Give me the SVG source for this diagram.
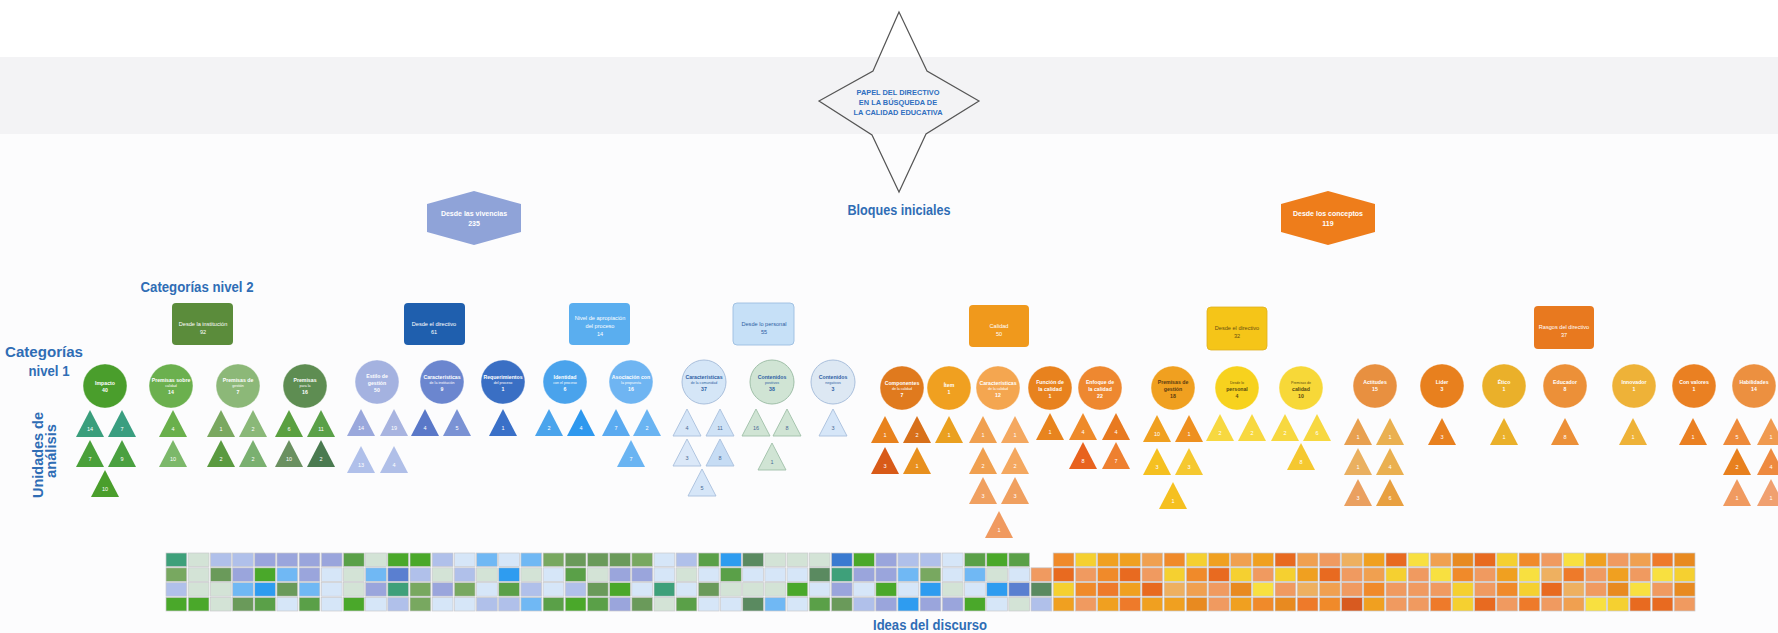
<svg xmlns="http://www.w3.org/2000/svg" xmlns:xlink="http://www.w3.org/1999/xlink" width="1778" height="633" viewBox="0 0 1778 633">
<style>
text{font-family:"Liberation Sans",Arial,sans-serif;text-anchor:middle}
.hd{font-weight:bold;fill:#2f6db5}
.st{font-weight:bold;fill:#2f6fc0;font-size:7.4px}
.l2{font-size:5.6px;fill:#fff}
.hx{font-size:7px;fill:#fff;font-weight:bold}
.cl{font-size:5.2px;fill:#fff;font-weight:bold}
.cs{font-size:3.6px;fill:#fff}
.dk{fill:#2e5fa3}
.tn{font-size:5.5px;fill:#fff}
.tp{font-size:5.5px;fill:#4a6a94}
.pale{stroke:#a9bfdc;stroke-width:0.9}
.paleg{stroke:#9fbfa8;stroke-width:0.9}
.rim{stroke:#ffffff;stroke-opacity:0.35;stroke-width:1.2}
.ga{fill:#3ea07a}.gb{fill:#4aa82a}.gc{fill:#5aa048}.gd{fill:#6a9a5a}.ge{fill:#78a860}.gf{fill:#5a8a60}.gg{fill:#d3e3d6}
.gh{fill:#b0c0ea}.gi{fill:#9aa5dc}.gj{fill:#d6e6f8}.gk{fill:#70b8f4}.gl{fill:#2e9cf0}.gm{fill:#5a7fd0}.gn{fill:#3a7ad0}
.oa{fill:#f08a2a}.ob{fill:#f5d030}.oc{fill:#f0a020}.od{fill:#f0a050}.oe{fill:#e86a20}.of{fill:#f09a60}.og{fill:#eeb060}
.oh{fill:#f8e040}.oi{fill:#d85a20}.oj{fill:#e88a20}.ok{fill:#ee7a2a}
</style>
<defs>
<path id="tri" d="M0 0 L14 27 L-14 27 Z"/>
<rect id="cell" width="20.8" height="13.6" stroke="#c9c9cc" stroke-width="0.7"/>
</defs>

<!-- background bands -->
<rect width="1778" height="633" fill="#fcfcfd"/>
<rect y="0" width="1778" height="57" fill="#ffffff"/>
<rect y="57" width="1778" height="77" fill="#f3f3f5"/>

<!-- title star -->
<g id="title">
<polygon points="899,12 927,71 979,101 926,134 899,192 872,135 819,101 873,71" fill="none" stroke="#555" stroke-width="1.2"/>
<text class="st" x="898" y="95">PAPEL DEL DIRECTIVO</text>
<text class="st" x="898" y="105">EN LA BÚSQUEDA DE</text>
<text class="st" x="898" y="115">LA CALIDAD EDUCATIVA</text>
</g>

<!-- section headings -->
<g id="headings">
<text class="hd" x="899" y="215" font-size="14" textLength="103" lengthAdjust="spacingAndGlyphs">Bloques iniciales</text>
<text class="hd" x="197" y="292" font-size="14" textLength="113" lengthAdjust="spacingAndGlyphs">Categorías nivel 2</text>
<text class="hd" x="44" y="357" font-size="14" textLength="78" lengthAdjust="spacingAndGlyphs">Categorías</text>
<text class="hd" x="49" y="376" font-size="14" textLength="41" lengthAdjust="spacingAndGlyphs">nivel 1</text>
<text class="hd" font-size="14" transform="translate(43,455) rotate(-90)" textLength="86" lengthAdjust="spacingAndGlyphs">Unidades de</text>
<text class="hd" font-size="14" transform="translate(56,451) rotate(-90)" textLength="54" lengthAdjust="spacingAndGlyphs">análisis</text>
<text class="hd" x="930" y="630" font-size="14" textLength="114" lengthAdjust="spacingAndGlyphs">Ideas del discurso</text>
</g>

<!-- initial blocks -->
<g id="block-vivencias">
<polygon points="474,191 521,204 521,232 474,245 427,232 427,204" fill="#8fa3d8"/>
<text class="hx" x="474" y="216">Desde las vivencias</text>
<text class="hx" x="474" y="226">235</text>
</g>
<g id="block-conceptos">
<polygon points="1328,191 1375,204 1375,232 1328,245 1281,232 1281,204" fill="#ee7d1b"/>
<text class="hx" x="1328" y="216">Desde los conceptos</text>
<text class="hx" x="1328" y="226">119</text>
</g>

<!-- level 2 categories -->
<g id="n2-institucion"><rect x="172" y="303" width="61" height="42" rx="4" fill="#5b8c3b"/>
<text class="l2" x="203" y="326">Desde la institución</text><text class="l2" x="203" y="334">92</text></g>
<g id="n2-directivo"><rect x="404" y="303" width="61" height="42" rx="4" fill="#1f5fae"/>
<text class="l2" x="434" y="326">Desde el directivo</text><text class="l2" x="434" y="334">61</text></g>
<g id="n2-apropiacion"><rect x="569" y="303" width="61" height="42" rx="4" fill="#5aaeef"/>
<text class="l2" x="600" y="320">Nivel de apropiación</text><text class="l2" x="600" y="328">del proceso</text><text class="l2" x="600" y="336">14</text></g>
<g id="n2-personal"><rect x="733" y="303" width="61" height="42" rx="4" fill="#c6e0f7" stroke="#9cbde0" stroke-width="0.9"/>
<text class="l2 dk" x="764" y="326">Desde lo personal</text><text class="l2 dk" x="764" y="334">55</text></g>
<g id="n2-calidad"><rect x="969" y="305" width="60" height="42" rx="4" fill="#f0991c"/>
<text class="l2" x="999" y="328">Calidad</text><text class="l2" x="999" y="336">50</text></g>
<g id="n2-directivo-c"><rect x="1207" y="307" width="60" height="43" rx="4" fill="#f5c518" stroke="#e0b020" stroke-width="0.8"/>
<text class="l2" x="1237" y="330" style="fill:#6b4f10">Desde el directivo</text><text class="l2" x="1237" y="338" style="fill:#6b4f10">32</text></g>
<g id="n2-rasgos"><rect x="1534" y="306" width="60" height="43" rx="4" fill="#e8791f"/>
<text class="l2" x="1564" y="329">Rasgos del directivo</text><text class="l2" x="1564" y="337">37</text></g>

<!-- level 1 categories -->
<g id="n1-impacto"><circle class="rim" cx="105" cy="386" r="22" fill="#4a9e2c"/>
<text class="cl" x="105" y="385">Impacto</text><text class="cl" x="105" y="392">40</text></g>
<g id="n1-premisas-calidad"><circle class="rim" cx="171" cy="386" r="22" fill="#6bb04e"/>
<text class="cl" x="171" y="382">Premisas sobre</text><text class="cs" x="171" y="387">calidad</text><text class="cl" x="171" y="394">14</text></g>
<g id="n1-premisas-gestion"><circle class="rim" cx="238" cy="386" r="22" fill="#8cb878"/>
<text class="cl" x="238" y="382">Premisas de</text><text class="cs" x="238" y="387">gestión</text><text class="cl" x="238" y="394">7</text></g>
<g id="n1-premisas-para"><circle class="rim" cx="305" cy="386" r="22" fill="#5e8d52"/>
<text class="cl" x="305" y="382">Premisas</text><text class="cs" x="305" y="387">para la</text><text class="cl" x="305" y="394">16</text></g>

<g id="n1-estilo"><circle class="rim" cx="377" cy="382" r="22" fill="#a4b2e0"/>
<text class="cl" x="377" y="378">Estilo de</text><text class="cl" x="377" y="385">gestión</text><text class="cl" x="377" y="392">50</text></g>
<g id="n1-caract-inst"><circle class="rim" cx="442" cy="382" r="22" fill="#6b86cf"/>
<text class="cl" x="442" y="379">Características</text><text class="cs" x="442" y="384">de la institución</text><text class="cl" x="442" y="391">9</text></g>
<g id="n1-requerimientos"><circle class="rim" cx="503" cy="382" r="22" fill="#3a6fc4"/>
<text class="cl" x="503" y="379">Requerimientos</text><text class="cs" x="503" y="384">del proceso</text><text class="cl" x="503" y="391">1</text></g>
<g id="n1-identidad"><circle class="rim" cx="565" cy="382" r="22" fill="#4aa3ec"/>
<text class="cl" x="565" y="379">Identidad</text><text class="cs" x="565" y="384">con el proceso</text><text class="cl" x="565" y="391">6</text></g>
<g id="n1-asociacion"><circle class="rim" cx="631" cy="382" r="22" fill="#6fb5f2"/>
<text class="cl" x="631" y="379">Asociación con</text><text class="cs" x="631" y="384">la propuesta</text><text class="cl" x="631" y="391">16</text></g>
<g id="n1-caract-com"><circle cx="704" cy="382" r="22" fill="#d5e6f7" stroke="#a9bfdc" stroke-width="1"/>
<text class="cl dk" x="704" y="379">Características</text><text class="cs dk" x="704" y="384">de la comunidad</text><text class="cl dk" x="704" y="391">37</text></g>
<g id="n1-positivos"><circle cx="772" cy="382" r="22" fill="#d0e4d4" stroke="#9fbfa8" stroke-width="1"/>
<text class="cl dk" x="772" y="379">Contenidos</text><text class="cs dk" x="772" y="384">positivos</text><text class="cl dk" x="772" y="391">38</text></g>
<g id="n1-negativos"><circle cx="833" cy="382" r="22" fill="#dde8f3" stroke="#a9bfdc" stroke-width="1"/>
<text class="cl dk" x="833" y="379">Contenidos</text><text class="cs dk" x="833" y="384">negativos</text><text class="cl dk" x="833" y="391">3</text></g>

<g id="n1-componentes"><circle class="rim" cx="902" cy="388" r="22" fill="#e07a1e"/>
<text class="cl" x="902" y="385">Componentes</text><text class="cs" x="902" y="390">de la calidad</text><text class="cl" x="902" y="397">7</text></g>
<g id="n1-item"><circle class="rim" cx="949" cy="388" r="22" fill="#f0a020"/>
<text class="cl" x="949" y="387">Ítem</text><text class="cl" x="949" y="394">1</text></g>
<g id="n1-caract-cal"><circle class="rim" cx="998" cy="388" r="22" fill="#f4a650"/>
<text class="cl" x="998" y="385">Características</text><text class="cs" x="998" y="390">de la calidad</text><text class="cl" x="998" y="397">12</text></g>
<g id="n1-funcion"><circle class="rim" cx="1050" cy="388" r="22" fill="#e8821e"/>
<text class="cl" x="1050" y="384">Función de</text><text class="cl" x="1050" y="391">la calidad</text><text class="cl" x="1050" y="398">1</text></g>
<g id="n1-enfoque"><circle class="rim" cx="1100" cy="388" r="22" fill="#ee8830"/>
<text class="cl" x="1100" y="384">Enfoque de</text><text class="cl" x="1100" y="391">la calidad</text><text class="cl" x="1100" y="398">22</text></g>
<g id="n1-premisas-gestion-c"><circle class="rim" cx="1173" cy="388" r="22" fill="#f0a020"/>
<text class="cl" x="1173" y="384" style="fill:#5a3a10">Premisas de</text><text class="cl" x="1173" y="391" style="fill:#5a3a10">gestión</text><text class="cl" x="1173" y="398" style="fill:#5a3a10">18</text></g>
<g id="n1-desde-personal"><circle class="rim" cx="1237" cy="388" r="22" fill="#f7d21e"/>
<text class="cs" x="1237" y="384" style="fill:#5a4a10">Desde lo</text><text class="cl" x="1237" y="391" style="fill:#5a4a10">personal</text><text class="cl" x="1237" y="398" style="fill:#5a4a10">4</text></g>
<g id="n1-premisas-cal"><circle class="rim" cx="1301" cy="388" r="22" fill="#f7d838"/>
<text class="cs" x="1301" y="384" style="fill:#5a4a10">Premisas de</text><text class="cl" x="1301" y="391" style="fill:#5a4a10">calidad</text><text class="cl" x="1301" y="398" style="fill:#5a4a10">10</text></g>
<g id="n1-actitudes"><circle class="rim" cx="1375" cy="386" r="22" fill="#e89040"/>
<text class="cl" x="1375" y="384">Actitudes</text><text class="cl" x="1375" y="391">15</text></g>
<g id="n1-lider"><circle class="rim" cx="1442" cy="386" r="22" fill="#e8801e"/>
<text class="cl" x="1442" y="384">Líder</text><text class="cl" x="1442" y="391">3</text></g>
<g id="n1-etico"><circle class="rim" cx="1504" cy="386" r="22" fill="#eab02a"/>
<text class="cl" x="1504" y="384">Ético</text><text class="cl" x="1504" y="391">1</text></g>
<g id="n1-educador"><circle class="rim" cx="1565" cy="386" r="22" fill="#ec9038"/>
<text class="cl" x="1565" y="384">Educador</text><text class="cl" x="1565" y="391">8</text></g>
<g id="n1-innovador"><circle class="rim" cx="1634" cy="386" r="22" fill="#eeb238"/>
<text class="cl" x="1634" y="384">Innovador</text><text class="cl" x="1634" y="391">1</text></g>
<g id="n1-valores"><circle class="rim" cx="1694" cy="386" r="22" fill="#ea8022"/>
<text class="cl" x="1694" y="384">Con valores</text><text class="cl" x="1694" y="391">1</text></g>
<g id="n1-habilidades"><circle class="rim" cx="1754" cy="386" r="22" fill="#ec9040"/>
<text class="cl" x="1754" y="384">Habilidades</text><text class="cl" x="1754" y="391">14</text></g>

<!-- units of analysis -->
<g id="u-impacto">
<use href="#tri" x="90" y="410" fill="#3a9e7c"/><text class="tn" x="90" y="431">14</text>
<use href="#tri" x="122" y="410" fill="#3a9e80"/><text class="tn" x="122" y="431">7</text>
<use href="#tri" x="90" y="440" fill="#4aa03a"/><text class="tn" x="90" y="461">7</text>
<use href="#tri" x="122" y="440" fill="#4aa040"/><text class="tn" x="122" y="461">9</text>
<use href="#tri" x="105" y="470" fill="#4a9e2c"/><text class="tn" x="105" y="491">10</text>
</g>
<g id="u-premisas-calidad">
<use href="#tri" x="173" y="410" fill="#6ab04c"/><text class="tn" x="173" y="431">4</text>
<use href="#tri" x="173" y="440" fill="#7cb86a"/><text class="tn" x="173" y="461">10</text>
</g>
<g id="u-premisas-gestion">
<use href="#tri" x="221" y="410" fill="#7aa860"/><text class="tn" x="221" y="431">1</text>
<use href="#tri" x="253" y="410" fill="#8ab878"/><text class="tn" x="253" y="431">2</text>
<use href="#tri" x="221" y="440" fill="#5a9a40"/><text class="tn" x="221" y="461">2</text>
<use href="#tri" x="253" y="440" fill="#7ab070"/><text class="tn" x="253" y="461">2</text>
</g>
<g id="u-premisas-para">
<use href="#tri" x="289" y="410" fill="#5aa040"/><text class="tn" x="289" y="431">6</text>
<use href="#tri" x="321" y="410" fill="#5aa048"/><text class="tn" x="321" y="431">11</text>
<use href="#tri" x="289" y="440" fill="#6a9060"/><text class="tn" x="289" y="461">10</text>
<use href="#tri" x="321" y="440" fill="#4a7a50"/><text class="tn" x="321" y="461">2</text>
</g>
<g id="u-estilo">
<use href="#tri" x="361" y="409" fill="#9aa8dc"/><text class="tn" x="361" y="430">14</text>
<use href="#tri" x="394" y="409" fill="#a8b4e0"/><text class="tn" x="394" y="430">19</text>
<use href="#tri" x="361" y="446" fill="#b0c0ea"/><text class="tn" x="361" y="467">13</text>
<use href="#tri" x="394" y="446" fill="#b0bfe8"/><text class="tn" x="394" y="467">4</text>
</g>
<g id="u-caract-inst">
<use href="#tri" x="425" y="409" fill="#5a78c8"/><text class="tn" x="425" y="430">4</text>
<use href="#tri" x="457" y="409" fill="#7a92d4"/><text class="tn" x="457" y="430">5</text>
</g>
<g id="u-requerimientos">
<use href="#tri" x="503" y="409" fill="#3a70c8"/><text class="tn" x="503" y="430">1</text>
</g>
<g id="u-identidad">
<use href="#tri" x="549" y="409" fill="#4aa4ec"/><text class="tn" x="549" y="430">2</text>
<use href="#tri" x="581" y="409" fill="#2e98ee"/><text class="tn" x="581" y="430">4</text>
</g>
<g id="u-asociacion">
<use href="#tri" x="616" y="409" fill="#5aaaf0"/><text class="tn" x="616" y="430">7</text>
<use href="#tri" x="647" y="409" fill="#6ab4f2"/><text class="tn" x="647" y="430">2</text>
<use href="#tri" x="631" y="440" fill="#6ab4f2"/><text class="tn" x="631" y="461">7</text>
</g>
<g id="u-caract-com">
<use class="pale" href="#tri" x="687" y="409" fill="#d6e6f8"/><text class="tp" x="687" y="430">4</text>
<use class="pale" href="#tri" x="720" y="409" fill="#cfe2f6"/><text class="tp" x="720" y="430">11</text>
<use class="pale" href="#tri" x="687" y="439" fill="#dbe8f8"/><text class="tp" x="687" y="460">3</text>
<use class="pale" href="#tri" x="720" y="439" fill="#c6dcf4"/><text class="tp" x="720" y="460">8</text>
<use class="pale" href="#tri" x="702" y="469" fill="#d6e6f8"/><text class="tp" x="702" y="490">5</text>
</g>
<g id="u-positivos">
<use class="paleg" href="#tri" x="756" y="409" fill="#d0e4d4"/><text class="tp" x="756" y="430">16</text>
<use class="paleg" href="#tri" x="787" y="409" fill="#d0e4d4"/><text class="tp" x="787" y="430">8</text>
<use class="paleg" href="#tri" x="772" y="443" fill="#d0e4d4"/><text class="tp" x="772" y="464">1</text>
</g>
<g id="u-negativos">
<use class="pale" href="#tri" x="833" y="409" fill="#d6e6f8"/><text class="tp" x="833" y="430">3</text>
</g>
<g id="u-componentes">
<use href="#tri" x="885" y="416" fill="#e8821e"/><text class="tn" x="885" y="437">1</text>
<use href="#tri" x="917" y="416" fill="#d8701a"/><text class="tn" x="917" y="437">2</text>
<use href="#tri" x="885" y="447" fill="#d85a18"/><text class="tn" x="885" y="468">3</text>
<use href="#tri" x="917" y="447" fill="#e8901e"/><text class="tn" x="917" y="468">1</text>
</g>
<g id="u-item">
<use href="#tri" x="949" y="416" fill="#eaa020"/><text class="tn" x="949" y="437">1</text>
</g>
<g id="u-caract-cal">
<use href="#tri" x="983" y="416" fill="#f0a050"/><text class="tn" x="983" y="437">1</text>
<use href="#tri" x="1015" y="416" fill="#f4a860"/><text class="tn" x="1015" y="437">1</text>
<use href="#tri" x="983" y="447" fill="#f0a050"/><text class="tn" x="983" y="468">2</text>
<use href="#tri" x="1015" y="447" fill="#f4a860"/><text class="tn" x="1015" y="468">2</text>
<use href="#tri" x="983" y="477" fill="#f0a060"/><text class="tn" x="983" y="498">3</text>
<use href="#tri" x="1015" y="477" fill="#f0a060"/><text class="tn" x="1015" y="498">3</text>
<use href="#tri" x="999" y="511" fill="#f09a60"/><text class="tn" x="999" y="532">1</text>
</g>
<g id="u-funcion">
<use href="#tri" x="1050" y="413" fill="#e8841e"/><text class="tn" x="1050" y="434">1</text>
</g>
<g id="u-enfoque">
<use href="#tri" x="1083" y="413" fill="#ee8a2a"/><text class="tn" x="1083" y="434">4</text>
<use href="#tri" x="1116" y="413" fill="#e87a20"/><text class="tn" x="1116" y="434">4</text>
<use href="#tri" x="1083" y="442" fill="#e8621e"/><text class="tn" x="1083" y="463">8</text>
<use href="#tri" x="1116" y="442" fill="#ee8030"/><text class="tn" x="1116" y="463">7</text>
</g>
<g id="u-premisas-gestion-c">
<use href="#tri" x="1157" y="415" fill="#f0a020"/><text class="tn" x="1157" y="436">10</text>
<use href="#tri" x="1189" y="415" fill="#ee9020"/><text class="tn" x="1189" y="436">1</text>
<use href="#tri" x="1157" y="448" fill="#f5c020"/><text class="tn" x="1157" y="469">3</text>
<use href="#tri" x="1189" y="448" fill="#f5c830"/><text class="tn" x="1189" y="469">3</text>
<use href="#tri" x="1173" y="482" fill="#f5c020"/><text class="tn" x="1173" y="503">1</text>
</g>
<g id="u-desde-personal">
<use href="#tri" x="1220" y="414" fill="#f7d840"/><text class="tn" x="1220" y="435">2</text>
<use href="#tri" x="1252" y="414" fill="#f7d840"/><text class="tn" x="1252" y="435">2</text>
</g>
<g id="u-premisas-cal">
<use href="#tri" x="1285" y="414" fill="#f7d840"/><text class="tn" x="1285" y="435">2</text>
<use href="#tri" x="1317" y="414" fill="#f7d840"/><text class="tn" x="1317" y="435">6</text>
<use href="#tri" x="1301" y="443" fill="#f5c830"/><text class="tn" x="1301" y="464">8</text>
</g>
<g id="u-actitudes">
<use href="#tri" x="1358" y="418" fill="#e8a050"/><text class="tn" x="1358" y="439">1</text>
<use href="#tri" x="1390" y="418" fill="#eab050"/><text class="tn" x="1390" y="439">1</text>
<use href="#tri" x="1358" y="448" fill="#eab060"/><text class="tn" x="1358" y="469">1</text>
<use href="#tri" x="1390" y="448" fill="#eab050"/><text class="tn" x="1390" y="469">4</text>
<use href="#tri" x="1358" y="479" fill="#eaa060"/><text class="tn" x="1358" y="500">3</text>
<use href="#tri" x="1390" y="479" fill="#e8a040"/><text class="tn" x="1390" y="500">6</text>
</g>
<g id="u-lider"><use href="#tri" x="1442" y="418" fill="#e8801e"/><text class="tn" x="1442" y="439">3</text></g>
<g id="u-etico"><use href="#tri" x="1504" y="418" fill="#eab02a"/><text class="tn" x="1504" y="439">1</text></g>
<g id="u-educador"><use href="#tri" x="1565" y="418" fill="#ec9038"/><text class="tn" x="1565" y="439">8</text></g>
<g id="u-innovador"><use href="#tri" x="1633" y="418" fill="#eeb238"/><text class="tn" x="1633" y="439">1</text></g>
<g id="u-valores"><use href="#tri" x="1693" y="418" fill="#ea8022"/><text class="tn" x="1693" y="439">1</text></g>
<g id="u-habilidades">
<use href="#tri" x="1737" y="418" fill="#ee8a3a"/><text class="tn" x="1737" y="439">5</text>
<use href="#tri" x="1771" y="418" fill="#f09a50"/><text class="tn" x="1771" y="439">1</text>
<use href="#tri" x="1737" y="448" fill="#e8801e"/><text class="tn" x="1737" y="469">2</text>
<use href="#tri" x="1771" y="448" fill="#ee8a40"/><text class="tn" x="1771" y="469">4</text>
<use href="#tri" x="1737" y="479" fill="#f09a60"/><text class="tn" x="1737" y="500">1</text>
<use href="#tri" x="1771" y="479" fill="#f0a070"/><text class="tn" x="1771" y="500">1</text>
</g>

<g id="connectors"></g>

<!-- ideas of the discourse: 4 x 69 grid -->
<g id="ideas">
<g transform="translate(0,553)">
<use href="#cell" x="166" class="ga"/><use href="#cell" x="188.2" class="gg"/><use href="#cell" x="210.4" class="gh"/><use href="#cell" x="232.5" class="gh"/><use href="#cell" x="254.7" class="gi"/><use href="#cell" x="276.9" class="gi"/><use href="#cell" x="299.1" class="gi"/><use href="#cell" x="321.3" class="gi"/><use href="#cell" x="343.4" class="gc"/><use href="#cell" x="365.6" class="gg"/>
<use href="#cell" x="387.8" class="gb"/><use href="#cell" x="410" class="gb"/><use href="#cell" x="432.2" class="gh"/><use href="#cell" x="454.3" class="gj"/><use href="#cell" x="476.5" class="gk"/><use href="#cell" x="498.7" class="gj"/><use href="#cell" x="520.9" class="gk"/><use href="#cell" x="543.1" class="ge"/><use href="#cell" x="565.2" class="gd"/><use href="#cell" x="587.4" class="gd"/>
<use href="#cell" x="609.6" class="gd"/><use href="#cell" x="631.8" class="ge"/><use href="#cell" x="654" class="gj"/><use href="#cell" x="676.1" class="gh"/><use href="#cell" x="698.3" class="gc"/><use href="#cell" x="720.5" class="gl"/><use href="#cell" x="742.7" class="gf"/><use href="#cell" x="764.9" class="gg"/><use href="#cell" x="787" class="gg"/><use href="#cell" x="809.2" class="gg"/>
<use href="#cell" x="831.4" class="gn"/><use href="#cell" x="853.6" class="gb"/><use href="#cell" x="875.8" class="gi"/><use href="#cell" x="897.9" class="gh"/><use href="#cell" x="920.1" class="gh"/><use href="#cell" x="942.3" class="gj"/><use href="#cell" x="964.5" class="gc"/><use href="#cell" x="986.7" class="gb"/><use href="#cell" x="1008.8" class="gc"/>
<use href="#cell" x="1053.2" class="oa"/><use href="#cell" x="1075.4" class="ob"/><use href="#cell" x="1097.6" class="oc"/><use href="#cell" x="1119.7" class="oc"/><use href="#cell" x="1141.9" class="od"/><use href="#cell" x="1164.1" class="oa"/><use href="#cell" x="1186.3" class="ob"/><use href="#cell" x="1208.5" class="oc"/><use href="#cell" x="1230.6" class="od"/><use href="#cell" x="1252.8" class="oc"/>
<use href="#cell" x="1275" class="oe"/><use href="#cell" x="1297.2" class="od"/><use href="#cell" x="1319.4" class="of"/><use href="#cell" x="1341.5" class="og"/><use href="#cell" x="1363.7" class="oc"/><use href="#cell" x="1385.9" class="oe"/><use href="#cell" x="1408.1" class="oh"/><use href="#cell" x="1430.3" class="od"/><use href="#cell" x="1452.4" class="oj"/><use href="#cell" x="1474.6" class="oe"/>
<use href="#cell" x="1496.8" class="ob"/><use href="#cell" x="1519" class="oa"/><use href="#cell" x="1541.2" class="of"/><use href="#cell" x="1563.3" class="oh"/><use href="#cell" x="1585.5" class="oc"/><use href="#cell" x="1607.7" class="of"/><use href="#cell" x="1629.9" class="od"/><use href="#cell" x="1652.1" class="ok"/><use href="#cell" x="1674.2" class="oj"/>
</g>
<g transform="translate(0,567.8)">
<use href="#cell" x="166" class="ge"/><use href="#cell" x="188.2" class="gg"/><use href="#cell" x="210.4" class="gd"/><use href="#cell" x="232.5" class="gi"/><use href="#cell" x="254.7" class="gb"/><use href="#cell" x="276.9" class="gk"/><use href="#cell" x="299.1" class="gi"/><use href="#cell" x="321.3" class="gj"/><use href="#cell" x="343.4" class="gg"/><use href="#cell" x="365.6" class="gk"/>
<use href="#cell" x="387.8" class="gm"/><use href="#cell" x="410" class="gh"/><use href="#cell" x="432.2" class="gg"/><use href="#cell" x="454.3" class="gh"/><use href="#cell" x="476.5" class="gg"/><use href="#cell" x="498.7" class="gl"/><use href="#cell" x="520.9" class="gg"/><use href="#cell" x="543.1" class="gj"/><use href="#cell" x="565.2" class="gc"/><use href="#cell" x="587.4" class="gg"/>
<use href="#cell" x="609.6" class="gi"/><use href="#cell" x="631.8" class="gi"/><use href="#cell" x="654" class="gj"/><use href="#cell" x="676.1" class="gg"/><use href="#cell" x="698.3" class="gj"/><use href="#cell" x="720.5" class="gc"/><use href="#cell" x="742.7" class="gj"/><use href="#cell" x="764.9" class="gj"/><use href="#cell" x="787" class="gj"/><use href="#cell" x="809.2" class="gf"/>
<use href="#cell" x="831.4" class="ga"/><use href="#cell" x="853.6" class="gi"/><use href="#cell" x="875.8" class="gi"/><use href="#cell" x="897.9" class="gk"/><use href="#cell" x="920.1" class="ge"/><use href="#cell" x="942.3" class="gj"/><use href="#cell" x="964.5" class="gk"/><use href="#cell" x="986.7" class="gg"/><use href="#cell" x="1008.8" class="gj"/><use href="#cell" x="1031" class="of"/>
<use href="#cell" x="1053.2" class="oe"/><use href="#cell" x="1075.4" class="of"/><use href="#cell" x="1097.6" class="oa"/><use href="#cell" x="1119.7" class="oe"/><use href="#cell" x="1141.9" class="of"/><use href="#cell" x="1164.1" class="ob"/><use href="#cell" x="1186.3" class="oa"/><use href="#cell" x="1208.5" class="oe"/><use href="#cell" x="1230.6" class="ob"/><use href="#cell" x="1252.8" class="of"/>
<use href="#cell" x="1275" class="ob"/><use href="#cell" x="1297.2" class="oc"/><use href="#cell" x="1319.4" class="oe"/><use href="#cell" x="1341.5" class="of"/><use href="#cell" x="1363.7" class="od"/><use href="#cell" x="1385.9" class="ob"/><use href="#cell" x="1408.1" class="of"/><use href="#cell" x="1430.3" class="oh"/><use href="#cell" x="1452.4" class="oa"/><use href="#cell" x="1474.6" class="of"/>
<use href="#cell" x="1496.8" class="oc"/><use href="#cell" x="1519" class="oh"/><use href="#cell" x="1541.2" class="og"/><use href="#cell" x="1563.3" class="ok"/><use href="#cell" x="1585.5" class="of"/><use href="#cell" x="1607.7" class="oc"/><use href="#cell" x="1629.9" class="of"/><use href="#cell" x="1652.1" class="oh"/><use href="#cell" x="1674.2" class="ob"/>
</g>
<g transform="translate(0,582.6)">
<use href="#cell" x="166" class="gh"/><use href="#cell" x="188.2" class="gg"/><use href="#cell" x="210.4" class="gg"/><use href="#cell" x="232.5" class="gk"/><use href="#cell" x="254.7" class="gl"/><use href="#cell" x="276.9" class="gd"/><use href="#cell" x="299.1" class="gk"/><use href="#cell" x="321.3" class="gj"/><use href="#cell" x="343.4" class="gg"/><use href="#cell" x="365.6" class="gi"/>
<use href="#cell" x="387.8" class="ga"/><use href="#cell" x="410" class="ge"/><use href="#cell" x="432.2" class="gi"/><use href="#cell" x="454.3" class="ge"/><use href="#cell" x="476.5" class="gj"/><use href="#cell" x="498.7" class="gc"/><use href="#cell" x="520.9" class="gh"/><use href="#cell" x="543.1" class="gj"/><use href="#cell" x="565.2" class="gh"/><use href="#cell" x="587.4" class="gd"/>
<use href="#cell" x="609.6" class="gb"/><use href="#cell" x="631.8" class="gj"/><use href="#cell" x="654" class="ga"/><use href="#cell" x="676.1" class="gj"/><use href="#cell" x="698.3" class="gd"/><use href="#cell" x="720.5" class="gg"/><use href="#cell" x="742.7" class="gg"/><use href="#cell" x="764.9" class="gg"/><use href="#cell" x="787" class="gb"/><use href="#cell" x="809.2" class="gj"/>
<use href="#cell" x="831.4" class="gi"/><use href="#cell" x="853.6" class="gj"/><use href="#cell" x="875.8" class="gb"/><use href="#cell" x="897.9" class="gj"/><use href="#cell" x="920.1" class="gl"/><use href="#cell" x="942.3" class="gg"/><use href="#cell" x="964.5" class="gj"/><use href="#cell" x="986.7" class="gl"/><use href="#cell" x="1008.8" class="gm"/><use href="#cell" x="1031" class="gf"/>
<use href="#cell" x="1053.2" class="ob"/><use href="#cell" x="1075.4" class="oa"/><use href="#cell" x="1097.6" class="ok"/><use href="#cell" x="1119.7" class="oc"/><use href="#cell" x="1141.9" class="oe"/><use href="#cell" x="1164.1" class="og"/><use href="#cell" x="1186.3" class="od"/><use href="#cell" x="1208.5" class="of"/><use href="#cell" x="1230.6" class="oj"/><use href="#cell" x="1252.8" class="oh"/>
<use href="#cell" x="1275" class="of"/><use href="#cell" x="1297.2" class="og"/><use href="#cell" x="1319.4" class="od"/><use href="#cell" x="1341.5" class="of"/><use href="#cell" x="1363.7" class="oa"/><use href="#cell" x="1385.9" class="of"/><use href="#cell" x="1408.1" class="of"/><use href="#cell" x="1430.3" class="of"/><use href="#cell" x="1452.4" class="ob"/><use href="#cell" x="1474.6" class="of"/>
<use href="#cell" x="1496.8" class="oa"/><use href="#cell" x="1519" class="ob"/><use href="#cell" x="1541.2" class="oe"/><use href="#cell" x="1563.3" class="og"/><use href="#cell" x="1585.5" class="of"/><use href="#cell" x="1607.7" class="oj"/><use href="#cell" x="1629.9" class="oh"/><use href="#cell" x="1652.1" class="of"/><use href="#cell" x="1674.2" class="oj"/>
</g>
<g transform="translate(0,597.4)">
<use href="#cell" x="166" class="gb"/><use href="#cell" x="188.2" class="gb"/><use href="#cell" x="210.4" class="gg"/><use href="#cell" x="232.5" class="gd"/><use href="#cell" x="254.7" class="gc"/><use href="#cell" x="276.9" class="gj"/><use href="#cell" x="299.1" class="gc"/><use href="#cell" x="321.3" class="gj"/><use href="#cell" x="343.4" class="gb"/><use href="#cell" x="365.6" class="gj"/>
<use href="#cell" x="387.8" class="gh"/><use href="#cell" x="410" class="ge"/><use href="#cell" x="432.2" class="gj"/><use href="#cell" x="454.3" class="gj"/><use href="#cell" x="476.5" class="gh"/><use href="#cell" x="498.7" class="gh"/><use href="#cell" x="520.9" class="gk"/><use href="#cell" x="543.1" class="gc"/><use href="#cell" x="565.2" class="gb"/><use href="#cell" x="587.4" class="gc"/>
<use href="#cell" x="609.6" class="gi"/><use href="#cell" x="631.8" class="gd"/><use href="#cell" x="654" class="gg"/><use href="#cell" x="676.1" class="gc"/><use href="#cell" x="698.3" class="gj"/><use href="#cell" x="720.5" class="gj"/><use href="#cell" x="742.7" class="gf"/><use href="#cell" x="764.9" class="gk"/><use href="#cell" x="787" class="gj"/><use href="#cell" x="809.2" class="gc"/>
<use href="#cell" x="831.4" class="gd"/><use href="#cell" x="853.6" class="gh"/><use href="#cell" x="875.8" class="gi"/><use href="#cell" x="897.9" class="gl"/><use href="#cell" x="920.1" class="gi"/><use href="#cell" x="942.3" class="gi"/><use href="#cell" x="964.5" class="gb"/><use href="#cell" x="986.7" class="gj"/><use href="#cell" x="1008.8" class="gg"/><use href="#cell" x="1031" class="gh"/>
<use href="#cell" x="1053.2" class="oc"/><use href="#cell" x="1075.4" class="of"/><use href="#cell" x="1097.6" class="oc"/><use href="#cell" x="1119.7" class="ok"/><use href="#cell" x="1141.9" class="oc"/><use href="#cell" x="1164.1" class="oc"/><use href="#cell" x="1186.3" class="oj"/><use href="#cell" x="1208.5" class="of"/><use href="#cell" x="1230.6" class="oc"/><use href="#cell" x="1252.8" class="oa"/>
<use href="#cell" x="1275" class="oj"/><use href="#cell" x="1297.2" class="ok"/><use href="#cell" x="1319.4" class="oa"/><use href="#cell" x="1341.5" class="oi"/><use href="#cell" x="1363.7" class="oc"/><use href="#cell" x="1385.9" class="of"/><use href="#cell" x="1408.1" class="of"/><use href="#cell" x="1430.3" class="ok"/><use href="#cell" x="1452.4" class="ob"/><use href="#cell" x="1474.6" class="oe"/>
<use href="#cell" x="1496.8" class="of"/><use href="#cell" x="1519" class="ok"/><use href="#cell" x="1541.2" class="of"/><use href="#cell" x="1563.3" class="od"/><use href="#cell" x="1585.5" class="oh"/><use href="#cell" x="1607.7" class="ob"/><use href="#cell" x="1629.9" class="oe"/><use href="#cell" x="1652.1" class="oe"/><use href="#cell" x="1674.2" class="of"/>
</g>
</g>
</svg>
